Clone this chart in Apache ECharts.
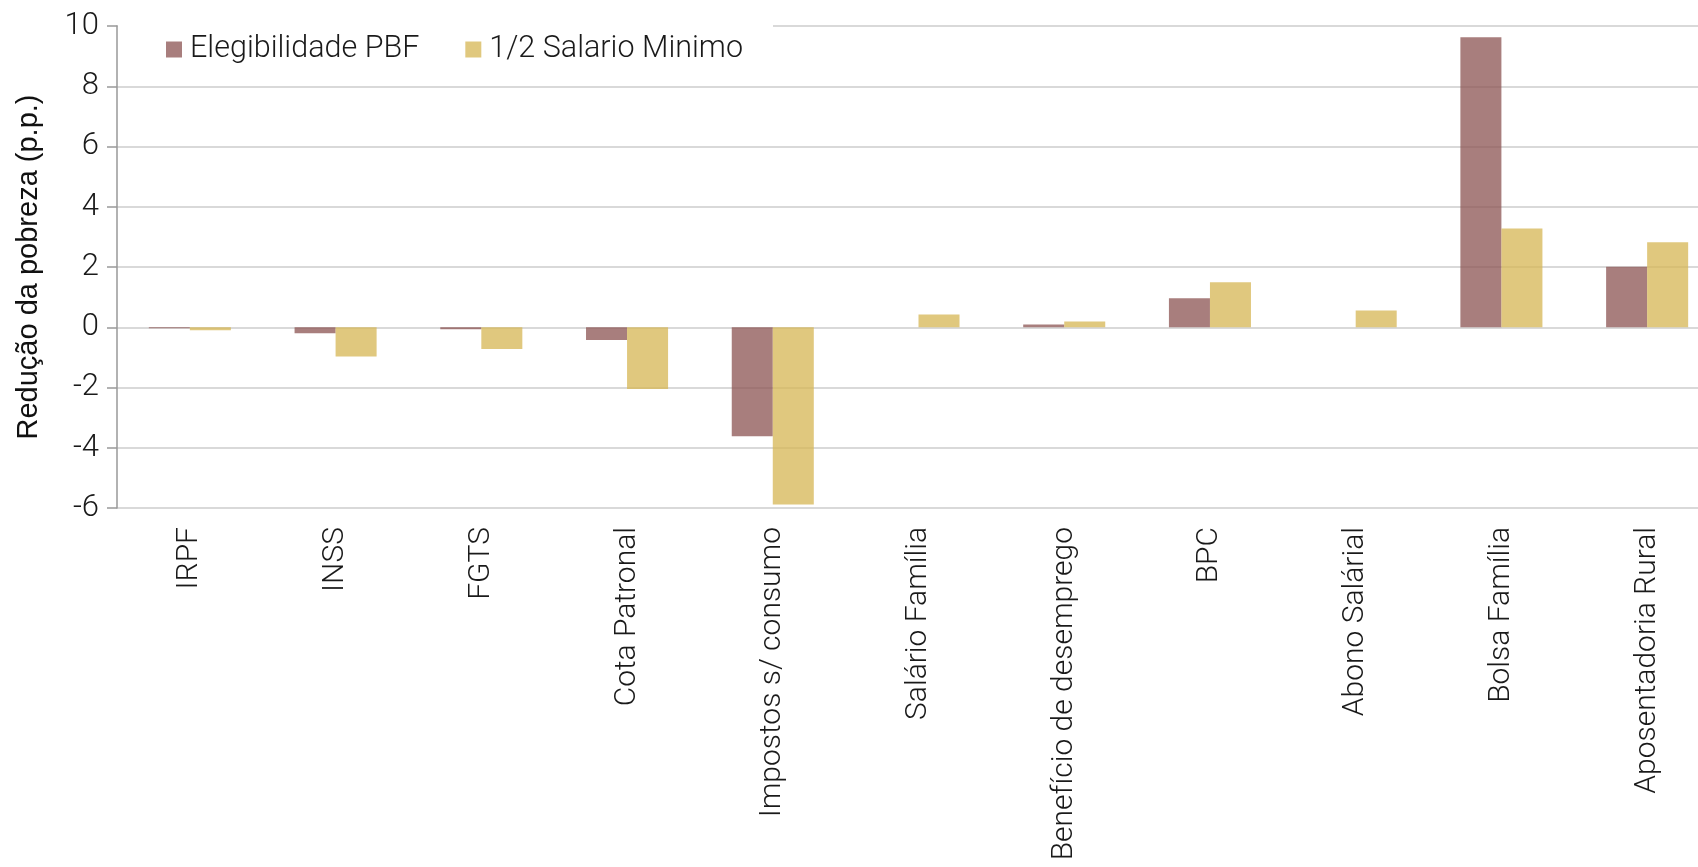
<!DOCTYPE html>
<html>
<head>
<meta charset="utf-8">
<script src="https://cdn.jsdelivr.net/npm/echarts@6/dist/echarts.min.js"></script>
<style>
html,body{margin:0;padding:0;background:#fff;overflow:hidden;width:1698px;height:867px;}
#chart{width:1720px;height:867px;}
</style>
</head>
<body>
<div id="chart"></div>
<script>
const categories = ['IRPF','INSS','FGTS','Cota Patronal','Impostos s/ consumo','Salário Família','Benefício de desemprego','BPC','Abono Salárial','Bolsa Família','Aposentadoria Rural'];
const seriesNames = ['Elegibilidade PBF','1/2 Salario Minimo'];
const elegibilidadePBF = [-0.03,-0.2,-0.07,-0.42,-3.62,0,0.09,0.96,0,9.63,2.01];
const meioSalarioMinimo = [-0.1,-0.97,-0.72,-2.05,-5.88,0.42,0.19,1.49,0.56,3.28,2.82];
const yTicks = {min:-6,max:10,interval:2};
const yTitle = 'Redução da pobreza (p.p.)';

const FONT = 'Roboto';
const chart = echarts.init(document.getElementById('chart'));
chart.setOption({
  animation:false,
  backgroundColor:'#ffffff',
  textStyle:{fontFamily:FONT},
  legend:{
    left:118, top:14,
    padding:[20,30,20,48],
    backgroundColor:'#ffffff',
    itemWidth:16, itemHeight:16, itemGap:46,
    icon:'rect',
    textStyle:{fontFamily:FONT,fontWeight:300,fontSize:30.5,color:'#1a1a1a',padding:[0,0,0,3]},
    data:seriesNames
  },
  grid:{left:117, top:26, bottom:359, right:0, containLabel:false},
  xAxis:{
    type:'category',
    data:categories,
    axisLine:{show:false,onZero:false},
    axisTick:{show:false},
    axisLabel:{rotate:90,margin:19,fontFamily:FONT,fontWeight:300,fontSize:30,color:'#1a1a1a',interval:0}
  },
  yAxis:{
    type:'value',
    min:yTicks.min, max:yTicks.max, interval:yTicks.interval,
    name:yTitle, nameLocation:'middle', nameGap:74,
    nameTextStyle:{fontFamily:'Liberation Sans',fontWeight:400,fontSize:29,color:'#111'},
    axisLine:{show:true,lineStyle:{color:'#999',width:1.5}},
    axisTick:{show:true,length:10,lineStyle:{color:'#999',width:1.5}},
    splitLine:{show:true,lineStyle:{color:'#d9d9d9',width:2}},
    axisLabel:{margin:18,fontFamily:FONT,fontWeight:300,fontSize:31,color:'#1a1a1a'}
  },
  series:[
    {name:seriesNames[0],type:'bar',data:elegibilidadePBF,barGap:'0%',barCategoryGap:'43.7%',
     itemStyle:{color:'rgb(139,83,82)',opacity:0.75}},
    {name:seriesNames[1],type:'bar',data:meioSalarioMinimo,barGap:'0%',barCategoryGap:'43.7%',
     itemStyle:{color:'rgb(214,182,83)',opacity:0.75}}
  ]
});
</script>
</body>
</html>
